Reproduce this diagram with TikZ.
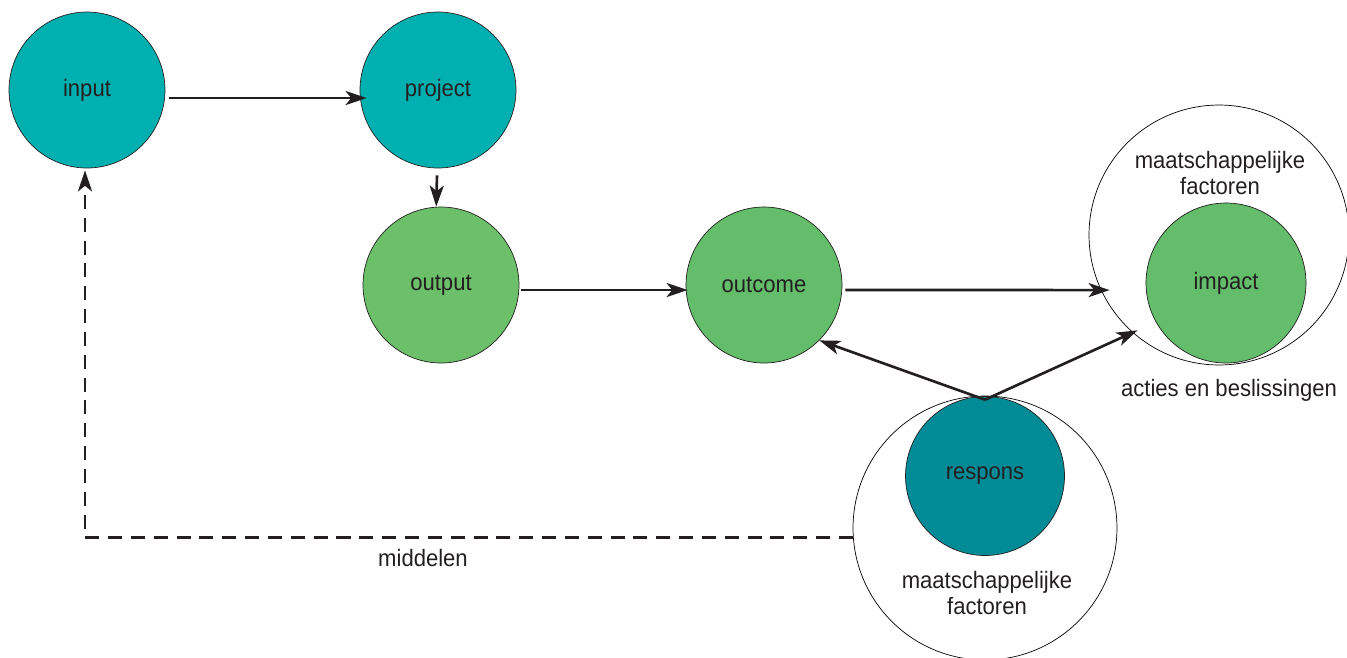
\documentclass[tikz,border=0pt]{standalone}
\usepackage{fontspec}
\setmainfont{Liberation Sans}[FakeStretch=0.93]
\usepackage{tikz}
\usetikzlibrary{positioning}
\usetikzlibrary{arrows.meta}
\definecolor{inkdark}{RGB}{35,31,32}
\definecolor{tealstage}{RGB}{0,176,176}
\definecolor{greenout}{RGB}{108,192,106}
\definecolor{greenstage}{RGB}{99,189,106}
\definecolor{tealdeep}{RGB}{0,139,150}
\tikzset{my_flow/.style={-{Stealth[length=12pt,width=8pt,inset=3.2pt]},line width=1.5pt,color=inkdark}}
\tikzset{my_stage/.style={circle, draw=inkdark, line width=0.4pt, minimum size=3.12cm, inner sep=0pt, text=inkdark}}
\tikzset{my_context/.style={circle, draw=black, line width=0.4pt, inner sep=0pt}}
\tikzset{my_label/.style={text=inkdark, align=center}}

\begin{document}
\begin{tikzpicture}[x=0.02cm, y=-0.02cm, font=\fontsize{13.5}{14.5}\selectfont]
    %\draw[help lines, step=50] (0,0) grid (1347,657);
    \useasboundingbox (0,0) rectangle (1347,657);
    \node[my_context, minimum size=5.2cm] (factimp) at (1219,235) {};
    \node[my_context, minimum size=5.28cm] (factresp) at (985,528) {};
    \node[my_stage, fill=tealstage] (input) at (87,90) {input};
    \node[my_stage, fill=tealstage] (project) at (438,90) {project};
    \node[my_stage, fill=greenout] (output) at (441,285) {output};
    \node[my_stage, fill=greenstage] (outcome) at (764,285) {outcome};
    \node[my_stage, fill=greenstage, minimum size=3.2cm] (impact) at (1226,283) {impact};
    \node[my_stage, fill=tealdeep, minimum size=3.18cm] (respons) at (985,476) {respons};
    \node[my_label] (factimptext) at (1220,173) {maatschappelijke\\factoren};
    \node[my_label] (factresptext) at (987,593) {maatschappelijke\\factoren};
    \node[my_label] (acties) at (1229,390) {acties en beslissingen};
    \node[my_label] (middelen) at (423,558) {middelen};

    \path[my_flow]
        ([shift={(4,8)}]input.east) edge ([shift={(7,8)}]project.west)
        ([shift={(-1,7)}]project.south) edge ([xshift=-1]project.south |- output.north)
        ([shift={(2,5)}]output.east) edge ([shift={(2,5)}]outcome.west)
        ([shift={(3,5)}]outcome.east) edge ([xshift=5]factimp.205)
        ([yshift=-2]respons.north) edge (outcome.-45)
        ([yshift=-2]respons.north) edge ([shift={(4,-3)}]factimp.229)
    ;
    \draw[my_flow, dash pattern=on 8pt off 5pt] (factresp.184) -| ([shift={(-2,2)}]input.south);
\end{tikzpicture}
\end{document}
